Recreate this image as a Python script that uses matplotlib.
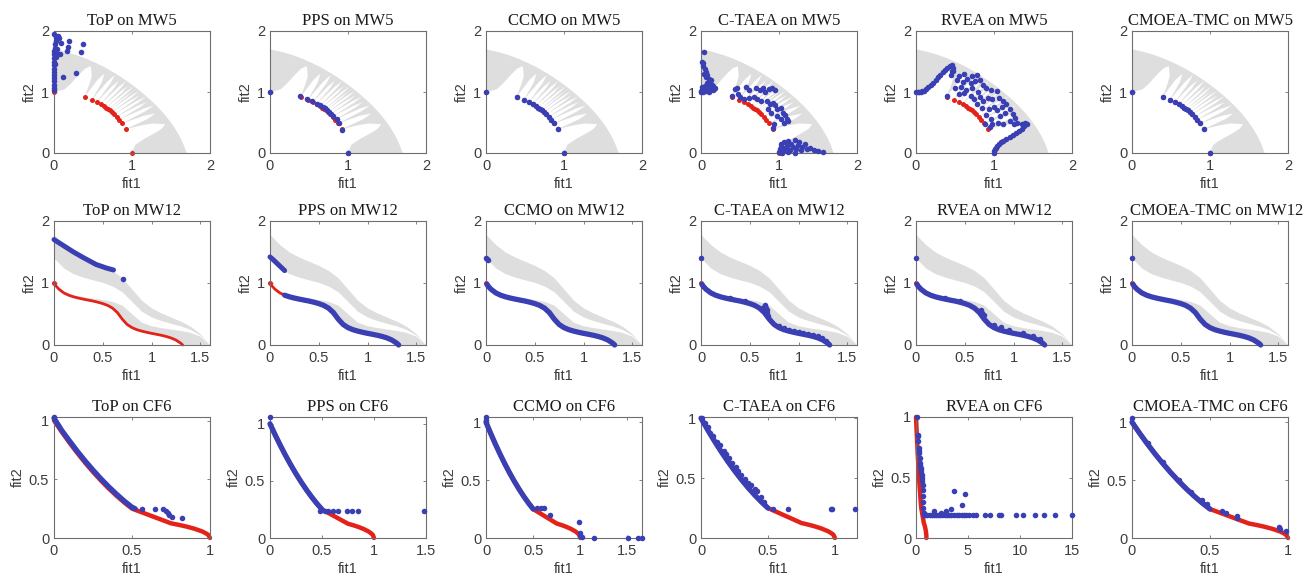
import numpy as np
import matplotlib
matplotlib.use("Agg")
import matplotlib.pyplot as plt
from matplotlib.ticker import FuncFormatter

plt.rcParams['font.family'] = ['Liberation Sans', 'DejaVu Sans']

BLUE = '#3a3fb3'
RED = '#e3231a'
GREY = '#dedede'

algos = ['ToP', 'PPS', 'CCMO', 'C-TAEA', 'RVEA', 'CMOEA-TMC']

# ---------------- MW5 ----------------
# feasible region, polar (deg, radius); outer rim and inner edge from fit2 axis to the diagonal
mw5_out_theta = np.array([0, 5, 10, 15, 20, 25, 30, 35, 40, 45, 50, 55, 60, 65, 70, 75, 80, 85, 90])
mw5_out_r = np.array([1.700, 1.665, 1.632, 1.600, 1.571, 1.547, 1.527, 1.512, 1.503, 1.500,
                      1.503, 1.512, 1.527, 1.547, 1.571, 1.600, 1.632, 1.665, 1.700])
mw5_in_theta = np.array([90, 82.68, 79.45, 77.49, 75.45, 73.72, 71.67, 69.02, 68.05, 66.91,
                         65.12, 63.57, 62.17, 60.91, 59.74, 58.66, 57.65, 56.70,
                         55.80, 54.95, 54.13, 53.35, 52.60, 51.88, 51.18, 50.52,
                         49.87, 49.24, 48.63, 48.04, 47.47, 46.92, 46.37, 45.83, 45.32, 45.0])
mw5_in_r = np.array([1.0, 1.05, 1.148, 1.24, 1.354, 1.446, 1.5, 1.354, 1.214, 1.0,
                     1.318, 1.45, 1.318, 1.0, 1.354, 1.5, 1.354, 1.0,
                     1.318, 1.45, 1.318, 1.0, 1.354, 1.5, 1.354, 1.0,
                     1.318, 1.45, 1.318, 1.0, 1.354, 1.49, 1.354, 1.0, 1.318, 1.428])

mw5_pf_x = [0.0, 0.392, 0.486, 0.549, 0.597, 0.636, 0.669, 0.697, 0.717, 0.744, 0.772, 0.802, 0.836, 0.874, 0.920, 1.0]
mw5_pf_y = [1.0, 0.920, 0.874, 0.836, 0.802, 0.772, 0.744, 0.717, 0.697, 0.669, 0.636, 0.597, 0.549, 0.486, 0.392, 0.0]

top_mw5_x = [0, 0, 0, 0, 0, 0, 0, 0, 0, 0, 0, 0, 0, 0.01, 0.01, 0.02, 0.02, 0.0, 0.03, 0.05,
             0.06, 0.09, 0.08, 0.17, 0.19, 0.18, 0.35, 0.375, 0.28, 0.12, 0.04, 0.02, 0.01]
top_mw5_y = [1.03, 1.07, 1.12, 1.18, 1.23, 1.28, 1.33, 1.38, 1.44, 1.5, 1.56, 1.62, 1.68, 1.72, 1.78, 1.84, 1.9, 1.95,
             1.66, 1.92, 1.88, 1.8, 1.62, 1.68, 1.83, 1.74, 1.66, 1.78, 1.31, 1.24, 1.7, 1.58, 1.46]

pps_mw5_x = [0.0, 0.39, 0.475, 0.54, 0.6, 0.64, 0.675, 0.70, 0.725, 0.75, 0.78, 0.81, 0.86, 0.89, 0.923, 1.0]
pps_mw5_y = [1.0, 0.93, 0.89, 0.855, 0.81, 0.78, 0.755, 0.73, 0.705, 0.675, 0.64, 0.605, 0.553, 0.493, 0.385, 0.0]

ctaea_mw5_x = [0.0, 0.01, 0.02, 0.03, 0.04, 0.02, 0.05, 0.06, 0.08, 0.10, 0.12, 0.14, 0.16, 0.18, 0.0, 0.03,
               0.06, 0.09, 0.12, 0.15, 0.17, 0.05, 0.08, 0.11, 0.13, 0.07, 0.04, 0.01, 0.10, 0.14,
               0.43, 0.46, 0.58, 0.62, 0.70, 0.75, 0.80, 0.82, 0.87, 0.91, 0.95, 0.50, 0.55, 0.62, 0.68,
               0.72, 0.77, 0.85, 0.88, 0.92, 0.95, 0.97, 1.02, 1.05, 1.08, 1.10, 1.12, 1.07, 1.03, 0.98,
               0.94, 0.92, 0.40, 0.47, 0.90, 0.86,
               1.00, 1.01, 1.02, 1.03, 1.05, 1.06, 1.08, 1.10, 1.12, 1.14, 1.16, 1.18, 1.20, 1.22, 1.24,
               1.26, 1.28, 1.30, 1.33, 1.36, 1.40, 1.45, 1.50, 1.56, 1.04, 1.12, 1.20]
ctaea_mw5_y = [1.0, 1.5, 1.47, 1.42, 1.65, 1.05, 1.38, 1.32, 1.28, 1.22, 1.18, 1.12, 1.10, 1.07, 1.02, 1.0,
               1.02, 1.04, 1.06, 1.03, 1.05, 1.10, 1.15, 1.12, 1.20, 1.25, 1.30, 1.08, 1.0, 1.08,
               1.05, 1.07, 1.08, 1.03, 1.06, 1.04, 1.07, 1.0, 1.05, 1.06, 1.04, 0.92, 0.88, 0.90, 0.92,
               0.88, 0.86, 0.85, 0.80, 0.82, 0.78, 0.72, 0.74, 0.66, 0.62, 0.56, 0.52, 0.50, 0.55, 0.60,
               0.48, 0.41, 0.93, 0.97, 0.66, 0.72,
               0.02, 0.06, 0.10, 0.14, 0.04, 0.18, 0.08, 0.12, 0.20, 0.05, 0.15, 0.10, 0.22, 0.07, 0.13,
               0.18, 0.05, 0.10, 0.14, 0.06, 0.08, 0.05, 0.04, 0.02, 0.0, 0.01, 0.0]

rvea_mw5_x = [0.0, 0.02, 0.04, 0.06, 0.08, 0.10, 0.13, 0.16, 0.19, 0.22, 0.25, 0.28, 0.31, 0.34, 0.37,
              0.40, 0.43, 0.46, 0.47, 0.46, 0.45,
              1.0, 1.0, 1.01, 1.02, 1.04, 1.06, 1.09, 1.12, 1.16, 1.20, 1.24, 1.28, 1.32, 1.36, 1.39,
              1.42, 1.40, 1.36,
              0.48, 0.55, 0.62, 0.66, 0.72, 0.78, 0.52, 0.60, 0.70, 0.76, 0.82, 0.86, 0.50, 0.58, 0.64,
              0.72, 0.80, 0.90, 0.96, 1.04, 0.55, 0.62, 0.70, 0.74, 0.82, 0.86, 0.92, 0.98, 1.06, 1.12,
              1.16, 1.20, 1.24, 1.27, 1.10, 1.04, 1.00, 0.94, 0.90, 0.96, 1.08, 1.14, 1.20, 1.26, 1.30,
              0.98, 1.05, 1.12, 0.95, 0.88, 0.40, 0.78, 0.84]
rvea_mw5_y = [1.0, 1.0, 1.0, 1.0, 1.01, 1.02, 1.05, 1.08, 1.11, 1.15, 1.19, 1.24, 1.28, 1.32, 1.36,
              1.39, 1.42, 1.45, 1.40, 1.34, 1.28,
              0.0, 0.03, 0.06, 0.09, 0.12, 0.15, 0.18, 0.20, 0.23, 0.26, 0.29, 0.32, 0.36, 0.40, 0.44,
              0.47, 0.49, 0.48,
              1.34, 1.27, 1.30, 1.22, 1.26, 1.28, 1.20, 1.16, 1.14, 1.18, 1.20, 1.12, 1.06, 1.08, 1.04,
              1.06, 1.0, 1.06, 1.04, 1.02, 0.96, 0.98, 0.94, 0.88, 0.92, 0.85, 0.90, 0.88, 0.90, 0.86,
              0.80, 0.72, 0.64, 0.58, 0.75, 0.70, 0.76, 0.72, 0.62, 0.56, 0.60, 0.66, 0.52, 0.48, 0.50,
              0.47, 0.50, 0.48, 0.42, 0.48, 0.93, 0.80, 0.74]

# ---------------- MW12 ----------------
mw12_grid = [0.0, 0.1, 0.2, 0.3, 0.4, 0.5, 0.6, 0.7, 0.8, 0.9, 1.0, 1.1, 1.2, 1.3, 1.4, 1.5, 1.6]
mw12_ub_top = [1.78, 1.619, 1.498, 1.416, 1.35, 1.283, 1.202, 1.081, 0.9, 0.719, 0.598, 0.517, 0.45, 0.384, 0.302, 0.179, 0.0]
mw12_ub_bot = [1.4, 1.241, 1.149, 1.094, 1.05, 1.009, 0.950, 0.857, 0.7, 0.543, 0.450, 0.394, 0.35, 0.306, 0.251, 0.159, 0.0]
mw12_lb_top = [1.0, 0.862, 0.804, 0.772, 0.75, 0.727, 0.696, 0.638, 0.5, 0.362, 0.304, 0.273, 0.25, 0.227, 0.196, 0.137, 0.0]

mw12_pf_x = [0.0, 0.01, 0.02, 0.05, 0.1, 0.15, 0.2, 0.25, 0.3, 0.35, 0.4, 0.45, 0.5, 0.55, 0.6, 0.65,
             0.7, 0.75, 0.8, 0.85, 0.9, 0.95, 1.0, 1.05, 1.1, 1.15, 1.2, 1.25, 1.3, 1.32]
mw12_pf_y = [1.0, 0.978, 0.953, 0.901, 0.841, 0.803, 0.777, 0.757, 0.740, 0.724, 0.709, 0.690, 0.668, 0.639,
             0.595, 0.523, 0.417, 0.331, 0.280, 0.247, 0.224, 0.205, 0.188, 0.173, 0.157, 0.138, 0.114, 0.080, 0.029, 0.0]

top_mw12_x = [0.0, 0.05, 0.13, 0.2, 0.3, 0.43, 0.54, 0.61]
top_mw12_y = [1.70, 1.65, 1.57, 1.50, 1.41, 1.30, 1.24, 1.21]
top_mw12_px = [0.71]
top_mw12_py = [1.07]
pps_mw12_x = [0.0, 0.03, 0.07, 0.11, 0.15]
pps_mw12_y = [1.42, 1.38, 1.32, 1.26, 1.20]
ccmo_mw12_px = [0.0, 0.01, 0.02]
ccmo_mw12_py = [1.40, 1.38, 1.37]
ctaea_mw12_px = [0.0, 0.30, 0.45, 0.64, 0.65, 0.66, 0.67, 0.675, 0.68, 0.69, 0.80, 0.85, 0.90, 0.95, 1.0,
                 1.05, 1.10, 1.15, 1.20, 1.24, 1.28]
ctaea_mw12_py = [1.40, 0.76, 0.71, 0.60, 0.62, 0.64, 0.60, 0.56, 0.52, 0.47, 0.31, 0.27, 0.245, 0.225, 0.205,
                 0.195, 0.18, 0.16, 0.14, 0.11, 0.06]
rvea_mw12_px = [0.0, 0.30, 0.45, 0.67, 0.68, 0.70, 0.80, 0.87, 0.95, 1.10, 1.20, 1.27]
rvea_mw12_py = [1.40, 0.755, 0.71, 0.57, 0.52, 0.48, 0.32, 0.29, 0.24, 0.19, 0.15, 0.10]
tmc_mw12_px = [0.0]
tmc_mw12_py = [1.40]

# ---------------- CF6 ----------------
cf6_pf_x = [0.0, 0.05, 0.1, 0.15, 0.2, 0.25, 0.3, 0.35, 0.4, 0.45, 0.5, 0.55, 0.6, 0.65, 0.7, 0.75,
            0.8, 0.85, 0.9, 0.95, 0.98, 0.99, 1.0]
cf6_pf_y = [1.0, 0.9025, 0.81, 0.7225, 0.64, 0.5625, 0.49, 0.4225, 0.36, 0.3025, 0.25, 0.225, 0.2, 0.175,
            0.15, 0.125, 0.112, 0.097, 0.079, 0.056, 0.035, 0.025, 0.0]

top_cf6_x = [0.0, 0.05, 0.1, 0.15, 0.2, 0.25, 0.3, 0.35, 0.4, 0.45, 0.5, 0.52]
top_cf6_y = [1.02, 0.915, 0.825, 0.737, 0.655, 0.578, 0.505, 0.437, 0.374, 0.315, 0.262, 0.25]
top_cf6_px = [0.0, 0.565, 0.65, 0.70, 0.715, 0.728, 0.74, 0.754, 0.818]
top_cf6_py = [1.03, 0.248, 0.248, 0.248, 0.234, 0.21, 0.195, 0.183, 0.169]
pps_cf6_px = [0.0, 0.48, 0.53, 0.56, 0.61, 0.65, 0.74, 0.79, 0.85, 1.48]
pps_cf6_py = [1.06, 0.24, 0.235, 0.235, 0.235, 0.235, 0.235, 0.235, 0.235, 0.235]
ccmo_cf6_px = [0.0, 0.0, 0.54, 0.58, 0.61, 0.675, 0.99, 1.0, 1.0, 1.02, 1.14, 1.51, 1.61, 1.65]
ccmo_cf6_py = [1.045, 1.02, 0.26, 0.26, 0.26, 0.20, 0.135, 0.04, 0.02, 0.01, 0.0, 0.0, 0.0, 0.0]
ctaea_cf6_px = [0.01, 0.03, 0.05, 0.07, 0.09, 0.12, 0.14, 0.17, 0.19, 0.21, 0.23, 0.26, 0.28, 0.30, 0.33,
                0.35, 0.37, 0.40, 0.42, 0.45, 0.47, 0.54, 0.65, 0.97, 0.98, 1.15]
ctaea_cf6_py = [1.0, 0.96, 0.93, 0.88, 0.85, 0.80, 0.78, 0.73, 0.70, 0.67, 0.63, 0.59, 0.56, 0.53, 0.49,
                0.46, 0.44, 0.41, 0.39, 0.34, 0.30, 0.24, 0.24, 0.24, 0.245, 0.245]
rvea_cf6_px = [0.10, 0.15, 0.19, 0.20, 0.25, 0.30, 0.32, 0.35, 0.40, 0.42, 0.45, 0.48, 0.50, 0.55, 0.58,
               0.60, 0.63, 0.65, 0.67, 0.70, 0.72, 0.73,
               0.75, 0.9, 1.1, 1.3, 1.5, 1.7, 1.9, 2.1, 2.3, 2.5, 2.8, 3.0, 3.2, 3.4, 3.7, 3.9, 4.1, 4.4,
               4.6, 4.8, 5.1, 5.5, 5.8, 6.6, 7.1, 8.0, 8.2, 9.6, 10.3, 11.4, 12.3, 13.4, 15.0,
               3.65, 4.7, 4.45, 3.4, 1.7, 2.9, 2.4]
rvea_cf6_py = [1.0, 0.85, 0.84, 0.80, 0.74, 0.72, 0.70, 0.66, 0.62, 0.60, 0.58, 0.56, 0.54, 0.52, 0.50,
               0.47, 0.44, 0.40, 0.35, 0.30, 0.25, 0.21,
               0.19, 0.19, 0.19, 0.19, 0.19, 0.19, 0.19, 0.19, 0.19, 0.19, 0.19, 0.19, 0.19, 0.19, 0.19,
               0.19, 0.19, 0.19, 0.19, 0.19, 0.19, 0.19, 0.19, 0.19, 0.19, 0.19, 0.19, 0.19, 0.19, 0.19,
               0.19, 0.19, 0.19,
               0.385, 0.36, 0.27, 0.24, 0.22, 0.22, 0.21]
tmc_cf6_px = [0.0, 0.1, 0.2, 0.3, 0.38, 0.45, 0.48, 0.574, 0.60, 0.67, 0.67, 0.945, 0.95, 0.99]
tmc_cf6_py = [1.04, 0.82, 0.66, 0.50, 0.40, 0.33, 0.29, 0.235, 0.22, 0.19, 0.17, 0.093, 0.08, 0.057]

cf6_xlim = [1.0, 1.5, 1.654, 1.165, 15.0, 1.0]
cf6_ylim = [1.03, 1.06, 1.045, 1.01, 1.0, 1.045]
cf6_xticks = [[0, 0.5, 1], [0, 0.5, 1, 1.5], [0, 0.5, 1, 1.5], [0, 0.5, 1], [0, 5, 10, 15], [0, 0.5, 1]]

# ---------------- layout (pixels) ----------------
W, H = 1311, 582
col_left = [54, 270, 486, 701, 916, 1132]
col_w = 156
row_top = [31, 221, 417]
row_h = [122, 124, 121]

fig = plt.figure(figsize=(W / 100, H / 100), dpi=100)
fmt = FuncFormatter(lambda v, p: f'{v:g}')


def make_ax(r, c):
    return fig.add_axes([col_left[c] / W, 1 - (row_top[r] + row_h[r]) / H, col_w / W, row_h[r] / H])


def style(ax, title, xlim, ylim, xticks, yticks, title_x=0.5):
    ax.set_xlim(0, xlim)
    ax.set_ylim(0, ylim)
    ax.set_xticks(xticks)
    ax.set_yticks(yticks)
    ax.xaxis.set_major_formatter(fmt)
    ax.yaxis.set_major_formatter(fmt)
    ax.tick_params(direction='in', top=True, right=True, length=2.5, width=0.6,
                   color='#6e6e6e', labelcolor='#3c3c3c', labelsize=10.5)
    ax.tick_params(axis='x', pad=4.5)
    ax.tick_params(axis='y', pad=3.5)
    for s in ax.spines.values():
        s.set_color('#6e6e6e')
        s.set_linewidth(0.8)
    ax.set_title(title, fontfamily='Liberation Serif', fontsize=12, pad=4, color='#1a1a1a', x=title_x)
    ax.set_xlabel('fit1', fontsize=10.5, labelpad=3, color='#3c3c3c')
    ax.set_ylabel('fit2', fontsize=10.5, labelpad=3, color='#3c3c3c')


def dots(ax, x, y, color, ms=4.0, z=3):
    ax.plot(x, y, 'o', color=color, ms=ms, mew=0, clip_on=False, zorder=z)


def band(ax, x, y, color, lw, z=3):
    ax.plot(x, y, '-', color=color, lw=lw, solid_capstyle='round', clip_on=False, zorder=z)


def mw5_region(ax):
    t_in = np.concatenate([90 - mw5_in_theta, mw5_in_theta[::-1][1:]])
    r_in = np.concatenate([mw5_in_r, mw5_in_r[::-1][1:]])
    t = np.radians(np.concatenate([mw5_out_theta[::-1], t_in]))
    r = np.concatenate([mw5_out_r[::-1], r_in])
    ax.fill(r * np.cos(t), r * np.sin(t), color=GREY, lw=0, zorder=1)


def mw12_region(ax):
    ax.fill_between(mw12_grid, mw12_ub_bot, mw12_ub_top, color=GREY, lw=0, zorder=1)
    px = np.concatenate([mw12_pf_x, [1.6], mw12_grid[::-1]])
    py = np.concatenate([mw12_pf_y, [0.0], mw12_lb_top[::-1]])
    ax.fill(px, py, color=GREY, lw=0, zorder=1)


# row 1: MW5
mw5_blue = [(top_mw5_x, top_mw5_y), (pps_mw5_x, pps_mw5_y), (mw5_pf_x, mw5_pf_y),
            (ctaea_mw5_x, ctaea_mw5_y), (rvea_mw5_x, rvea_mw5_y), (mw5_pf_x, mw5_pf_y)]
for c, name in enumerate(algos):
    ax = make_ax(0, c)
    mw5_region(ax)
    dots(ax, mw5_pf_x, mw5_pf_y, RED, ms=3.6, z=2.5)
    dots(ax, *mw5_blue[c], BLUE)
    style(ax, f'{name} on MW5', 2, 2, [0, 1, 2], [0, 1, 2])

# row 2: MW12
pf12_x = np.array(mw12_pf_x)
pf12_y = np.array(mw12_pf_y)
for c, name in enumerate(algos):
    ax = make_ax(1, c)
    mw12_region(ax)
    band(ax, pf12_x, pf12_y, RED, 2.0, z=2.5)
    dots(ax, pf12_x[:1], pf12_y[:1], RED, ms=3.6, z=2.5)
    if name == 'ToP':
        band(ax, top_mw12_x, top_mw12_y, BLUE, 3.6)
        dots(ax, top_mw12_px, top_mw12_py, BLUE)
    elif name == 'PPS':
        band(ax, pps_mw12_x, pps_mw12_y, BLUE, 3.6)
        m = pf12_x >= 0.15
        band(ax, pf12_x[m], pf12_y[m], BLUE, 3.8)
    else:
        band(ax, pf12_x[1:], pf12_y[1:], BLUE, 3.8)
        extra = {'CCMO': (ccmo_mw12_px, ccmo_mw12_py), 'C-TAEA': (ctaea_mw12_px, ctaea_mw12_py),
                 'RVEA': (rvea_mw12_px, rvea_mw12_py), 'CMOEA-TMC': (tmc_mw12_px, tmc_mw12_py)}[name]
        dots(ax, *extra, BLUE)
    # nudge the widest title right so it clears the "2" tick label
    tx = 0.545 if name == 'CMOEA-TMC' else 0.5
    style(ax, f'{name} on MW12', 1.6, 2, [0, 0.5, 1, 1.5], [0, 1, 2], title_x=tx)

# row 3: CF6
pf6_x = np.array(cf6_pf_x)
pf6_y = np.array(cf6_pf_y)
head = pf6_x <= 0.5
cf6_pts = [(top_cf6_px, top_cf6_py), (pps_cf6_px, pps_cf6_py), (ccmo_cf6_px, ccmo_cf6_py),
           (ctaea_cf6_px, ctaea_cf6_py), (rvea_cf6_px, rvea_cf6_py), (tmc_cf6_px, tmc_cf6_py)]
for c, name in enumerate(algos):
    ax = make_ax(2, c)
    band(ax, pf6_x, pf6_y, RED, 3.2, z=2.5)
    if name == 'ToP':
        band(ax, top_cf6_x, top_cf6_y, BLUE, 3.8)
    elif name != 'RVEA':
        band(ax, pf6_x[head], pf6_y[head], BLUE, 3.8)
    dots(ax, *cf6_pts[c], BLUE)
    style(ax, f'{name} on CF6', cf6_xlim[c], cf6_ylim[c], cf6_xticks[c], [0, 0.5, 1])

fig.savefig('out.png', dpi=100)
